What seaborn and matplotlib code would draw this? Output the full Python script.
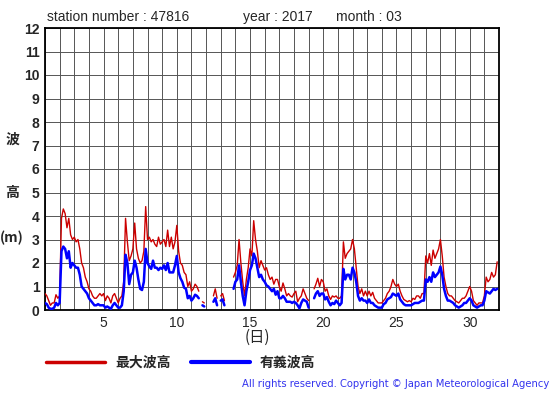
import numpy as np
import pandas as pd
import matplotlib
matplotlib.use("Agg")
import matplotlib.pyplot as plt
from matplotlib.lines import Line2D
import seaborn as sns

nan = np.nan

# 3-hourly readings, one row per day (00,03,...,21 h), March 2017, station 47816
max_wave = [
    0.7, 0.6, 0.4, 0.2, 0.3, 0.3, 0.65, 0.5,      # 1
    0.6, 3.9, 4.3, 4.1, 3.5, 3.9, 3.2, 3.0,       # 2
    3.1, 2.9, 3.0, 2.6, 2.0, 1.8, 1.4, 1.2,       # 3
    0.9, 0.8, 0.6, 0.5, 0.5, 0.6, 0.7, 0.6,       # 4
    0.7, 0.4, 0.6, 0.5, 0.3, 0.6, 0.7, 0.5,       # 5
    0.3, 0.5, 0.6, 1.2, 3.9, 2.9, 2.1, 2.3,       # 6
    2.6, 3.7, 2.6, 2.2, 2.0, 2.1, 2.5, 4.4,       # 7
    3.0, 3.1, 2.9, 3.0, 2.8, 2.7, 3.1, 2.8,       # 8
    2.9, 3.0, 2.7, 3.4, 2.7, 3.1, 2.6, 2.9,       # 9
    3.6, 2.5, 2.0, 1.9, 1.6, 1.5, 1.0, 1.2,       # 10
    0.8, 0.9, 1.1, 1.0, 0.8, nan, 0.35, 0.3,      # 11
    nan, nan, nan, nan, 0.6, 0.9, 0.5, nan,       # 12
    0.6, 0.7, 0.4, nan, nan, nan, nan, 1.4,       # 13
    1.6, 1.9, 3.0, 2.0, 1.2, 0.6, 1.3, 1.8,       # 14
    2.6, 2.3, 3.8, 3.0, 2.5, 1.8, 2.1, 1.9,       # 15
    1.7, 1.8, 1.5, 1.3, 1.4, 1.1, 1.3, 1.3,       # 16
    1.0, 0.8, 1.15, 0.9, 0.6, 0.7, 0.6, 0.55,     # 17
    0.7, 0.8, 0.35, 0.5, 0.6, 0.9, 0.7, 0.5,      # 18
    0.4, nan, nan, 0.9, 1.1, 1.35, 1.0, 1.3,      # 19
    1.2, 0.8, 0.9, 0.6, 0.45, 0.6, 0.55, 0.6,     # 20
    0.5, 0.5, 0.6, 2.9, 2.2, 2.4, 2.5, 2.6,       # 21
    3.0, 2.6, 1.8, 1.0, 0.7, 0.9, 0.6, 0.8,       # 22
    0.6, 0.8, 0.6, 0.75, 0.5, 0.4, 0.3, 0.3,      # 23
    0.3, 0.4, 0.5, 0.7, 0.8, 1.0, 1.3, 1.1,       # 24
    1.0, 1.1, 0.8, 0.6, 0.45, 0.4, 0.35, 0.4,     # 25
    0.35, 0.5, 0.45, 0.6, 0.6, 0.5, 0.7, 0.7,     # 26
    2.3, 2.0, 2.4, 1.9, 2.55, 2.2, 2.4, 2.6,      # 27
    3.0, 2.3, 1.4, 1.0, 0.7, 0.6, 0.6, 0.5,       # 28
    0.4, 0.35, 0.3, 0.4, 0.5, 0.5, 0.6, 0.8,      # 29
    1.0, 0.8, 0.4, 0.3, 0.2, 0.3, 0.3, 0.3,       # 30
    0.6, 1.4, 1.2, 1.3, 1.6, 1.4, 1.5, 2.05,      # 31
]

sig_wave = [
    0.3, 0.25, 0.1, 0.05, 0.05, 0.1, 0.3, 0.2,    # 1
    0.3, 2.5, 2.7, 2.6, 2.2, 2.5, 1.8, 2.0,       # 2
    1.9, 1.8, 1.8, 1.5, 1.0, 0.9, 0.8, 0.7,       # 3
    0.5, 0.4, 0.3, 0.2, 0.2, 0.25, 0.2, 0.2,      # 4
    0.2, 0.1, 0.15, 0.1, 0.05, 0.2, 0.3, 0.2,     # 5
    0.1, 0.1, 0.2, 0.8, 2.35, 2.0, 1.1, 1.5,      # 6
    1.6, 2.1, 1.8, 1.3, 0.9, 0.85, 1.2, 2.6,      # 7
    2.0, 1.85, 1.75, 2.1, 1.8, 1.8, 1.7, 1.8,     # 8
    1.75, 1.9, 1.7, 2.0, 1.6, 1.6, 1.6, 1.9,      # 9
    2.3, 1.6, 1.35, 1.2, 0.95, 0.9, 0.5, 0.6,     # 10
    0.4, 0.5, 0.65, 0.6, 0.5, nan, 0.2, 0.15,     # 11
    nan, nan, nan, nan, 0.35, 0.5, 0.2, nan,      # 12
    0.4, 0.45, 0.2, nan, nan, nan, nan, 0.9,      # 13
    1.2, 1.3, 1.9, 1.2, 0.6, 0.2, 0.8, 1.2,       # 14
    1.7, 1.9, 2.4, 2.2, 1.8, 1.4, 1.5, 1.3,       # 15
    1.2, 1.05, 1.0, 0.9, 0.8, 0.9, 0.65, 0.8,     # 16
    0.5, 0.5, 0.6, 0.5, 0.35, 0.35, 0.35, 0.3,    # 17
    0.35, 0.3, 0.2, 0.07, 0.3, 0.45, 0.4, 0.35,   # 18
    0.1, nan, nan, 0.5, 0.7, 0.8, 0.6, 0.7,       # 19
    0.7, 0.45, 0.55, 0.35, 0.2, 0.3, 0.25, 0.4,   # 20
    0.3, 0.2, 0.3, 1.75, 1.3, 1.5, 1.5, 1.3,      # 21
    1.8, 1.6, 1.2, 0.6, 0.4, 0.5, 0.4, 0.4,       # 22
    0.3, 0.45, 0.3, 0.3, 0.2, 0.15, 0.1, 0.1,     # 23
    0.1, 0.25, 0.3, 0.45, 0.5, 0.55, 0.7, 0.65,   # 24
    0.6, 0.7, 0.45, 0.35, 0.25, 0.2, 0.2, 0.2,    # 25
    0.2, 0.25, 0.3, 0.3, 0.3, 0.35, 0.4, 0.4,     # 26
    1.3, 1.2, 1.4, 1.2, 1.6, 1.4, 1.5, 1.6,       # 27
    1.85, 1.5, 0.9, 0.6, 0.4, 0.4, 0.35, 0.3,     # 28
    0.2, 0.15, 0.1, 0.15, 0.2, 0.3, 0.3, 0.4,     # 29
    0.5, 0.4, 0.2, 0.15, 0.1, 0.15, 0.2, 0.2,     # 30
    0.4, 0.8, 0.75, 0.7, 0.8, 0.9, 0.85, 0.9,     # 31
]

day_ticks = list(range(1, 33))
day_labels = ["" if d % 5 else str(d) for d in day_ticks]
y_ticks = list(range(0, 13))

RED = "#cc0000"
BLUE = "#0000ff"


def make_frame(values, name):
    day = 1 + np.arange(len(values)) / 8.0
    df = pd.DataFrame({"day": day, "height": values})
    # new segment after every missing reading so gaps stay open
    df["seg"] = df["height"].isna().cumsum()
    df["series"] = name
    return df.dropna()


sns.set_theme(style="white")
plt.rcParams["font.family"] = ["Liberation Sans", "Noto Sans CJK JP"]

fig = plt.figure(figsize=(5.55, 3.95), dpi=100)
ax = fig.add_axes([45 / 555, 85 / 395, 454 / 555, 282 / 395])

red_df = make_frame(max_wave, "最大波高")
blue_df = make_frame(sig_wave, "有義波高")

sns.lineplot(data=red_df, x="day", y="height", units="seg", estimator=None,
             color=RED, linewidth=1.0, ax=ax, zorder=3)
sns.lineplot(data=blue_df, x="day", y="height", units="seg", estimator=None,
             color=BLUE, linewidth=1.8, ax=ax, zorder=4)

ax.set_xlim(1, 32)
ax.set_ylim(0, 12)
ax.set_xticks(day_ticks)
ax.set_xticklabels(day_labels, fontsize=10)
ax.set_yticks(y_ticks)
ax.set_yticklabels([str(v) for v in y_ticks], fontsize=10, fontweight="bold")
ax.tick_params(length=0, pad=4)
ax.grid(True, color="#555555", linewidth=0.7)
ax.set_axisbelow(True)
for sp in ax.spines.values():
    sp.set_color("black")
    sp.set_linewidth(1.3)
ax.set_xlabel("")
ax.set_ylabel("")

fam = ["Noto Sans CJK JP", "DejaVu Sans"]
fig.text(47 / 555, 1 - 17 / 395, "station number : 47816", fontsize=10, va="center")
fig.text(243 / 555, 1 - 17 / 395, "year : 2017", fontsize=10, va="center")
fig.text(336 / 555, 1 - 17 / 395, "month : 03", fontsize=10, va="center")

fig.text(12 / 555, 1 - 140 / 395, "波", fontsize=10, fontweight="bold", family=fam,
         ha="center", va="center")
fig.text(12 / 555, 1 - 193 / 395, "高", fontsize=10, fontweight="bold", family=fam,
         ha="center", va="center")
fig.text(12 / 555, 1 - 238 / 395, "(m)", fontsize=10, fontweight="bold", family=fam,
         ha="center", va="center")
fig.text(257 / 555, 1 - 337 / 395, "(日)", fontsize=11, family=fam,
         ha="center", va="center")

handles = [Line2D([], [], color=RED, linewidth=2.5),
           Line2D([], [], color=BLUE, linewidth=3)]
leg = fig.legend(handles, ["最大波高", "有義波高"], loc="center left",
                 bbox_to_anchor=(33 / 555, 1 - 363 / 395), ncol=2, frameon=False,
                 handlelength=4.3, handletextpad=0.7, columnspacing=1.45,
                 prop={"family": fam, "weight": "bold", "size": 10})

fig.text(549 / 555, 1 - 384 / 395,
         "All rights reserved. Copyright © Japan Meteorological Agency",
         fontsize=7.2, color="#3333ee", ha="right", va="center",
         family="DejaVu Sans")

fig.savefig("out.png", dpi=100)
